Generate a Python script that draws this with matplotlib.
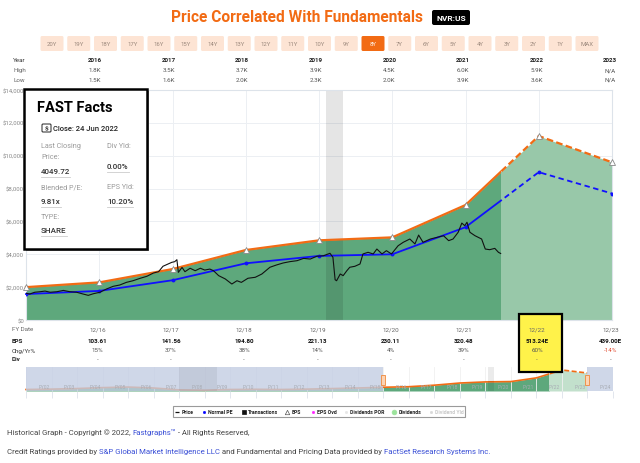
import numpy as np
import matplotlib.pyplot as plt
from matplotlib.patches import Rectangle, FancyBboxPatch
from matplotlib.lines import Line2D

plt.rcParams['font.family'] = ['Roboto', 'DejaVu Sans']

# ---- data ----
buttons = ['20Y', '19Y', '18Y', '17Y', '16Y', '15Y', '14Y', '13Y', '12Y', '11Y',
           '10Y', '9Y', '8Y', '7Y', '6Y', '5Y', '4Y', '3Y', '2Y', '1Y', 'MAX']
active_button = '8Y'

years = ['2016', '2017', '2018', '2019', '2020', '2021', '2022', '2023']
high = ['1.8K', '3.5K', '3.7K', '3.9K', '4.5K', '6.0K', '5.9K', 'N/A']
low = ['1.5K', '1.6K', '2.0K', '2.3K', '2.0K', '3.9K', '3.6K', 'N/A']

fy_labels = ['12/16', '12/17', '12/18', '12/19', '12/20', '12/21', '12/22', '12/23']
fy_pos = [2017, 2018, 2019, 2020, 2021, 2022, 2023, 2024]
eps = ['103.61', '141.56', '194.80', '221.13', '230.11', '320.48', '513.24E', '439.00E']
chg = ['15%', '37%', '38%', '14%', '4%', '39%', '60%', '-14%']

# fundamental (orange) and normal PE (blue) lines at fiscal year ends
fund_t = [2016, 2017, 2018, 2019, 2020, 2021, 2022, 2023, 2024]
fund_val = [2000, 2290, 3100, 4260, 4850, 5030, 7000, 11200, 9600]
normal_val = [1580, 1770, 2420, 3450, 3900, 4000, 5650, 9000, 7700]

# daily price (decimal years, $)
price_t = [2016.00, 2016.05, 2016.12, 2016.19, 2016.26, 2016.33, 2016.42, 2016.51,
           2016.60, 2016.69, 2016.78, 2016.85, 2016.92, 2017.01, 2017.10, 2017.19,
           2017.28, 2017.37, 2017.46, 2017.56, 2017.65, 2017.74, 2017.81, 2017.87,
           2017.94, 2017.99, 2018.03, 2018.06, 2018.08, 2018.13, 2018.17, 2018.24,
           2018.31, 2018.38, 2018.44, 2018.51, 2018.56, 2018.63, 2018.72, 2018.81,
           2018.88, 2018.94, 2019.03, 2019.13, 2019.22, 2019.33, 2019.42, 2019.51,
           2019.60, 2019.70, 2019.79, 2019.88, 2019.97, 2020.06, 2020.15, 2020.19,
           2020.22, 2020.24, 2020.29, 2020.33, 2020.38, 2020.42, 2020.49, 2020.56,
           2020.60, 2020.67, 2020.74, 2020.79, 2020.86, 2020.92, 2020.99, 2021.08,
           2021.15, 2021.24, 2021.31, 2021.36, 2021.42, 2021.52, 2021.61, 2021.70,
           2021.77, 2021.83, 2021.90, 2021.95, 2021.99, 2022.02, 2022.06, 2022.13,
           2022.22, 2022.27, 2022.33, 2022.40, 2022.45, 2022.48]
price_val = [1630, 1580, 1690, 1720, 1760, 1690, 1720, 1800,
             1720, 1690, 1580, 1500, 1600, 1690, 1890, 2050,
             2130, 2290, 2390, 2540, 2660, 2860, 2940, 3270,
             3410, 3510, 3550, 3670, 2900, 3200, 2940, 3150,
             3000, 3150, 3040, 3100, 3000, 2700, 2500, 2190,
             2390, 2290, 2540, 2600, 2800, 3210, 3350, 3470,
             3550, 3610, 3750, 3710, 3880, 3910, 4060, 3820,
             2450, 2390, 2800, 2700, 3000, 3210, 3270, 3410,
             4020, 4120, 4020, 4320, 4020, 4220, 4020, 4520,
             4730, 4930, 4630, 5170, 4730, 4930, 5030, 5130,
             4830, 4930, 5340, 5900, 5740, 5950, 5340, 5130,
             4930, 4320, 4280, 4360, 4120, 4050]
last_close_t = 2022.48
recession = (2020.10, 2020.33)

# navigator (long history of the orange line, 2002-2015 then as above)
nav_early_t = [2002, 2003, 2004, 2005, 2006, 2007, 2008, 2009, 2010, 2011, 2012, 2013, 2014, 2015]
nav_early_val = [800, 1000, 1300, 1800, 2100, 1600, 600, 400, 800, 900, 800, 1000, 1300, 1600]
nav_fy = ['FY%02d' % i for i in range(2, 25)]

fast_rows = [('Last Closing\nPrice:', '4049.72', 'Div Yld:', '0.00%'),
             ('Blended P/E:', '9.81x', 'EPS Yld:', '10.20%')]

legend_items = [('Price', '_', '#111', 2.6), ('Normal PE', 'o', 'blue', 1.6),
                ('Transactions', 's', '#111', 2.6), ('EPS', '^', 'white', 3.2),
                ('EPS Ovd', 'o', '#ff22ff', 1.6), ('Dividends POR', 'o', '#e6e6e6', 1.6),
                ('Dividends', 'o', '#9be39b', 3.4), ('Dividend Yld', 'o', '#d8d8d8', 1.6)]

# ---- helpers (pixel coords, y from top) ----
W, H = 640, 464
orange = '#f26b14'
dark_green = '#5ea87c'
light_green = '#98c8a9'


def fx(x):
    return x / W


def fy(y):
    return 1 - y / H


fig = plt.figure(figsize=(6.4, 4.64), dpi=100)
renderer = fig.canvas.get_renderer()


def txt(x, y, s, **kw):
    kw.setdefault('va', 'center')
    return fig.text(fx(x), fy(y), s, **kw)


def box(x0, y0, x1, y1, **kw):
    r = Rectangle((fx(x0), fy(y1)), fx(x1) - fx(x0), fy(y0) - fy(y1),
                  transform=fig.transFigure, **kw)
    fig.add_artist(r)
    return r


def rbox(x0, y0, x1, y1, pad=1.5, **kw):
    r = FancyBboxPatch((x0, H - y1), x1 - x0, y1 - y0,
                       boxstyle='round,pad=0,rounding_size=%g' % pad,
                       transform=None, **kw)
    fig.add_artist(r)
    return r


def clip_side(artist, ax, t, left=True):
    if left:
        r = Rectangle((1990, -1e6), t - 1990, 2e6, transform=ax.transData)
    else:
        r = Rectangle((t, -1e6), 100, 2e6, transform=ax.transData)
    artist.set_clip_path(r)


# ---- header ----
txt(297, 18, 'Price Correlated With Fundamentals', ha='center', color=orange,
    fontsize=11.2, fontweight='bold')
rbox(432, 11, 470, 26, pad=2, facecolor='black', edgecolor='none')
txt(451, 18.5, 'NVR:US', ha='center', color='white', fontsize=6, fontweight='bold')

for i, b in enumerate(buttons):
    cx = 52 + 26.75 * i
    on = b == active_button
    rbox(cx - 11.5, 37, cx + 11.5, 52, pad=1.5,
         facecolor=orange if on else '#fde4d4', edgecolor='none')
    txt(cx, 44.5, b, ha='center', fontsize=4.3, color='white' if on else '#9a877b')

# year high / low table
txt(13, 61, 'Year', fontsize=4.5, color='#333')
txt(13, 71, 'High', fontsize=4.5, color='#666')
txt(13, 80, 'Low', fontsize=4.5, color='#666')
for i, yr in enumerate(years):
    cx = 95 + 73.6 * i
    txt(cx, 61, yr, ha='center', fontsize=4.5, fontweight='bold', color='#222')
    txt(cx, 71, high[i], ha='center', fontsize=4.5, color='#555')
    txt(cx, 80, low[i], ha='center', fontsize=4.5, color='#555')

# ---- main chart ----
ax = fig.add_axes([fx(26), fy(321), fx(612) - fx(26), fy(91) - fy(321)])
ax.set_xlim(2016, 2024)
ax.set_ylim(0, 14000)
ax.set_yticks(range(0, 14001, 2000))
ax.set_yticklabels(['$%s' % format(v, ',') for v in range(0, 14001, 2000)])
ax.set_xticks(fy_pos)
ax.set_xticklabels([])
ax.tick_params(axis='both', length=0, labelsize=4.3, labelcolor='#888', pad=1.5)
ax.grid(color='#eceff3', lw=0.7)
ax.set_axisbelow(True)
for s in ax.spines.values():
    s.set_color('#dde3ea')

f1 = ax.fill_between(fund_t, fund_val, color=dark_green, lw=0, zorder=1)
clip_side(f1, ax, last_close_t, True)
f2 = ax.fill_between(fund_t, fund_val, color=light_green, lw=0, zorder=1)
clip_side(f2, ax, last_close_t, False)
ax.axvspan(*recession, color='black', alpha=0.1, lw=0, zorder=1.5)

l1, = ax.plot(fund_t, fund_val, color=orange, lw=1.6, zorder=3)
clip_side(l1, ax, last_close_t, True)
l2, = ax.plot(fund_t, fund_val, color=orange, lw=1.6, ls=(0, (3, 1.5)), zorder=3)
clip_side(l2, ax, last_close_t, False)
b1, = ax.plot(fund_t, normal_val, color='#1010ff', lw=1.3, zorder=3)
clip_side(b1, ax, last_close_t, True)
b2, = ax.plot(fund_t, normal_val, color='#1010ff', lw=1.3, ls=(0, (3, 2)), zorder=3)
clip_side(b2, ax, last_close_t, False)
ax.plot(fund_t, normal_val, 'o', color='#1010ff', ms=1.8, zorder=4)
ax.plot(price_t, price_val, color='#111', lw=0.8, zorder=4)
ax.plot(fund_t, fund_val, '^', mfc='white', mec='#888', mew=0.6, ms=4, zorder=5,
        clip_on=False)

# ---- FAST Facts box ----
box(26, 92, 149, 252, facecolor='#999', edgecolor='none', zorder=1)
box(24, 90, 147, 250, facecolor='white', edgecolor='black', lw=1.8, zorder=1.1)
txt(37, 108, 'FAST Facts', fontsize=10.5, fontweight='bold', color='black')
rbox(42, 125, 51, 133, pad=1, facecolor='white', edgecolor='#222', lw=0.7, zorder=2)
txt(46.5, 129.3, '$', ha='center', fontsize=4.5, fontweight='bold', color='#222')
txt(53, 129, 'Close: 24 Jun 2022', fontsize=5.5, fontweight='medium', color='#222')


def value(x, y, s):
    t = txt(x, y, s, fontsize=5.8, fontweight='medium', color='#333')
    bb = t.get_window_extent(renderer)
    fig.add_artist(Line2D([fx(x), fx(x + bb.width)], [fy(y + 6), fy(y + 6)],
                          transform=fig.transFigure, color='#ccc', lw=0.6))


txt(41, 147, 'Last Closing', fontsize=5.2, color='#999')
txt(41, 158, 'Price:', fontsize=5.2, color='#999')
value(41, 171.5, fast_rows[0][1])
txt(107, 147, fast_rows[0][2], fontsize=5.2, color='#999')
value(107, 167, fast_rows[0][3])
txt(41, 188, fast_rows[1][0], fontsize=5.2, color='#999')
value(41, 202, fast_rows[1][1])
txt(107, 188, fast_rows[1][2], fontsize=5.2, color='#999')
value(107, 202, fast_rows[1][3])
txt(41, 218, 'TYPE:', fontsize=5.2, color='#999')
value(41, 231, 'SHARE')

# ---- EPS table ----
box(519, 315, 562, 373, facecolor='#fff24a', edgecolor='black', lw=1.6, zorder=1.2)
txt(12, 330, 'FY Date', fontsize=4.5, color='#666')
txt(12, 342, 'EPS', fontsize=4.5, fontweight='bold', color='#222')
txt(12, 351, 'Chg/Yr%', fontsize=4.5, color='#333')
txt(12, 360, 'Div', fontsize=4.5, fontweight='bold', color='#222')
for i, p in enumerate(fy_pos):
    cx = 26 + (p - 2016) * 73.25 - 1.5
    txt(cx, 330, fy_labels[i], ha='center', fontsize=4.5, color='#666')
    txt(cx, 342, eps[i], ha='center', fontsize=4.5, fontweight='bold', color='#111')
    txt(cx, 351, chg[i], ha='center', fontsize=4.5,
        color='#e2533a' if chg[i].startswith('-') else '#555')
    txt(cx, 360, '-', ha='center', fontsize=4.5, color='#666')

# ---- navigator ----
nav = fig.add_axes([fx(26), fy(392), fx(613) - fx(26), fy(368) - fy(392)])
nav_t = nav_early_t + fund_t
nav_val = nav_early_val + fund_val
nav.set_xlim(2002, 2025)
nav.set_ylim(0, 12800)
nav.set_xticks(range(2002, 2026))
nav.set_xticklabels([])
nav.set_yticks([])
nav.tick_params(axis='x', length=5, color='#dde2ea', width=0.6)
nav.grid(axis='x', color='#f0f0f0', lw=0.6)
for s in nav.spines.values():
    s.set_visible(False)
n1 = nav.fill_between(nav_t, nav_val, color=dark_green, lw=0, zorder=1)
clip_side(n1, nav, last_close_t, True)
n2 = nav.fill_between(nav_t, nav_val, color='#c2e0cc', lw=0, zorder=1)
clip_side(n2, nav, last_close_t, False)
m1, = nav.plot(nav_t, nav_val, color=orange, lw=1.2, zorder=3)
clip_side(m1, nav, last_close_t, True)
m2, = nav.plot(nav_t, nav_val, color=orange, lw=1.2, ls=(0, (3, 1.5)), zorder=3)
clip_side(m2, nav, last_close_t, False)
nav.axvspan(2002, 2016, color='#c3cde3', alpha=0.8, lw=0, zorder=4)
nav.axvspan(2024, 2025, color='#c3cde3', alpha=0.8, lw=0, zorder=4)
nav.axvspan(2008.0, 2009.5, color='black', alpha=0.06, lw=0, zorder=4.5)
nav.axvspan(*recession, color='black', alpha=0.08, lw=0, zorder=4.5)
for i, lab in enumerate(nav_fy):
    nav.text(2002.7 + i, 2400, lab, ha='center', va='center', fontsize=3.6,
             color='#a8acb4', zorder=5)
for hx in (383, 587):
    box(hx - 2.2, 375.5, hx + 2.2, 385.5, facecolor='#fcd3b3', edgecolor='#f0883a',
        lw=0.6, zorder=1.3)

# ---- legend ----
box(173, 407, 465, 418, facecolor='white', edgecolor='#9a9a9a', lw=0.8, zorder=1)
leg_x = [177.3, 204.3, 244, 287.3, 312.7, 345.7, 394, 430.7]
for (name, mk, col, ms), lx in zip(legend_items, leg_x):
    fig.add_artist(Line2D([fx(lx)], [fy(412.7)], marker=mk, ms=ms, mfc=col,
                          mec='#555' if mk == '^' else col, mew=0.9 if mk == '_' else 0.5,
                          ls='none', transform=fig.transFigure))
    txt(lx + 4.2, 412.9, name, fontsize=3.7, fontweight='bold',
        color='#c8c8c8' if name == 'Dividend Yld' else '#222')

# ---- footer ----
link = '#3a4fd6'
plain = '#444'


def seq(x, y, parts):
    for s, c in parts:
        t = txt(x, y, s, fontsize=5.55, color=c)
        x += t.get_window_extent(renderer).width


seq(7, 433, [('Historical Graph - Copyright \u00a9 2022, ', plain), ('Fastgraphs\u2122', link),
             (' - All Rights Reserved,', plain)])
seq(7, 452, [('Credit Ratings provided by ', plain),
             ('S&P Global Market Intelligence LLC', link),
             (' and Fundamental and Pricing Data provided by ', plain),
             ('FactSet Research Systems Inc.', link)])

fig.savefig('out.png', dpi=100)
